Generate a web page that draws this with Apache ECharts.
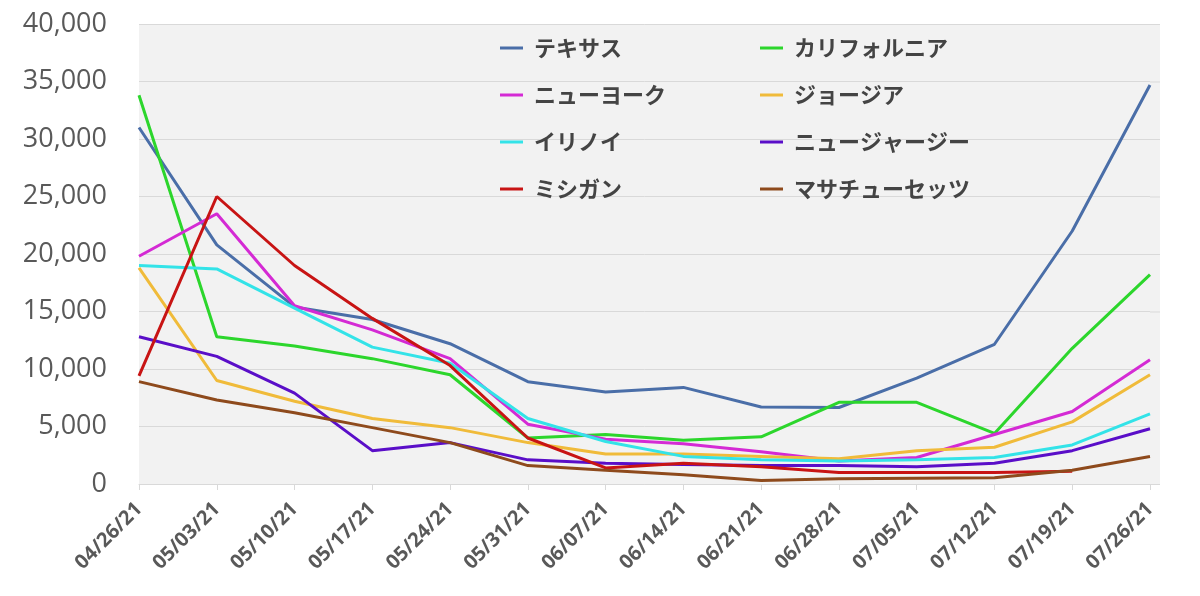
<!DOCTYPE html>
<html>
<head>
<meta charset="utf-8">
<script src="https://cdn.jsdelivr.net/npm/echarts@6/dist/echarts.min.js"></script>
<style>html,body{margin:0;padding:0;background:#fff}#c{width:1200px;height:596px}</style>
</head>
<body>
<div id="c"></div>
<script>
const categories = ['04/26/21','05/03/21','05/10/21','05/17/21','05/24/21','05/31/21','06/07/21','06/14/21','06/21/21','06/28/21','07/05/21','07/12/21','07/19/21','07/26/21'];
const yTicks = [0, 40000, 5000];
const texas      = [31000,20800,15400,14300,12200,8900,8000,8400,6700,6650,9200,12150,22000,34700];
const california = [33800,12800,12000,10900,9500,4000,4300,3800,4100,7100,7100,4400,11800,18200];
const newyork    = [19800,23500,15500,13400,10900,5200,3900,3500,2800,2000,2300,4300,6300,10800];
const georgia    = [18800,9000,7200,5700,4900,3600,2600,2600,2400,2200,2900,3200,5400,9500];
const illinois   = [19000,18700,15300,11900,10500,5700,3700,2400,2100,2000,2100,2300,3400,6100];
const newjersey  = [12800,11100,7900,2900,3600,2100,1800,1700,1600,1600,1500,1800,2900,4800];
const michigan   = [9400,25000,19000,14400,10300,4000,1400,1800,1500,1000,1000,1000,1100,null];
const massachusetts = [8900,7300,6200,4900,3600,1600,1200,800,300,450,500,550,1200,2400];

const names = ['テキサス','カリフォルニア','ニューヨーク','ジョージア','イリノイ','ニュージャージー','ミシガン','マサチューセッツ'];
const values = [texas, california, newyork, georgia, illinois, newjersey, michigan, massachusetts];
const colors = ['#4a6ea8','#2cd62c','#d42ad4','#f0bb3a','#33e3e8','#5a0ec8','#c81414','#8e4a1c'];

const chart = echarts.init(document.getElementById('c'));
const legendCommon = {
  orient: 'vertical',
  top: 32,
  itemGap: 25,
  icon: 'rect',
  itemWidth: 23,
  itemHeight: 3,
  textStyle: { fontSize: 22, fontWeight: 'bold', color: '#444', fontFamily: 'Noto Sans CJK JP', padding: [0,0,0,6] }
};
chart.setOption({
  animation: false,
  color: colors,
  graphic: [{ type: 'rect', z: -10, silent: true, shape: { x: 1150, y: 24, width: 10, height: 460 }, style: { fill: '#f2f2f2' } },
            { type: 'group', silent: true, children: [5,4,3,2,1,0].map(i => ({
              type: 'line', z: -5, shape: { x1: 1150, y1: 24 + i * 57.5 + 0.5, x2: 1160, y2: 24 + i * 57.5 + 0.5 },
              style: { stroke: '#d9d9d9', lineWidth: 1 } })) },
            { type: 'line', z: -5, silent: true, shape: { x1: 1150, y1: 484.5, x2: 1160, y2: 484.5 }, style: { stroke: '#d9d9d9', lineWidth: 1 } }],
  legend: [
    Object.assign({}, legendCommon, { left: 495, data: [names[0], names[2], names[4], names[6]] }),
    Object.assign({}, legendCommon, { left: 755, data: [names[1], names[3], names[5], names[7]] })
  ],
  grid: { left: 139, right: 50, top: 24, bottom: 112, show: true, backgroundColor: '#f2f2f2', borderWidth: 0 },
  xAxis: {
    type: 'category',
    data: categories,
    boundaryGap: false,
    axisLine: { lineStyle: { color: '#d9d9d9', width: 1 } },
    axisTick: { show: true, alignWithLabel: true, length: 6, lineStyle: { color: '#d9d9d9' } },
    axisLabel: { rotate: 45, interval: 0, fontSize: 20, fontWeight: 'bold', color: '#595959', fontFamily: 'Open Sans', margin: 22 },
    splitLine: { show: false }
  },
  yAxis: {
    type: 'value',
    min: yTicks[0], max: yTicks[1], interval: yTicks[2],
    axisLine: { show: false },
    axisTick: { show: false },
    axisLabel: { fontSize: 27, color: '#595959', fontFamily: 'Open Sans', margin: 32,
      formatter: v => v.toLocaleString('en-US') },
    splitLine: { lineStyle: { color: '#d9d9d9', width: 1 } }
  },
  series: names.map((n, i) => ({
    name: n,
    type: 'line',
    data: values[i],
    symbol: 'none',
    lineStyle: { width: 3, color: colors[i] },
    itemStyle: { color: colors[i] }
  }))
});
</script>
</body>
</html>
